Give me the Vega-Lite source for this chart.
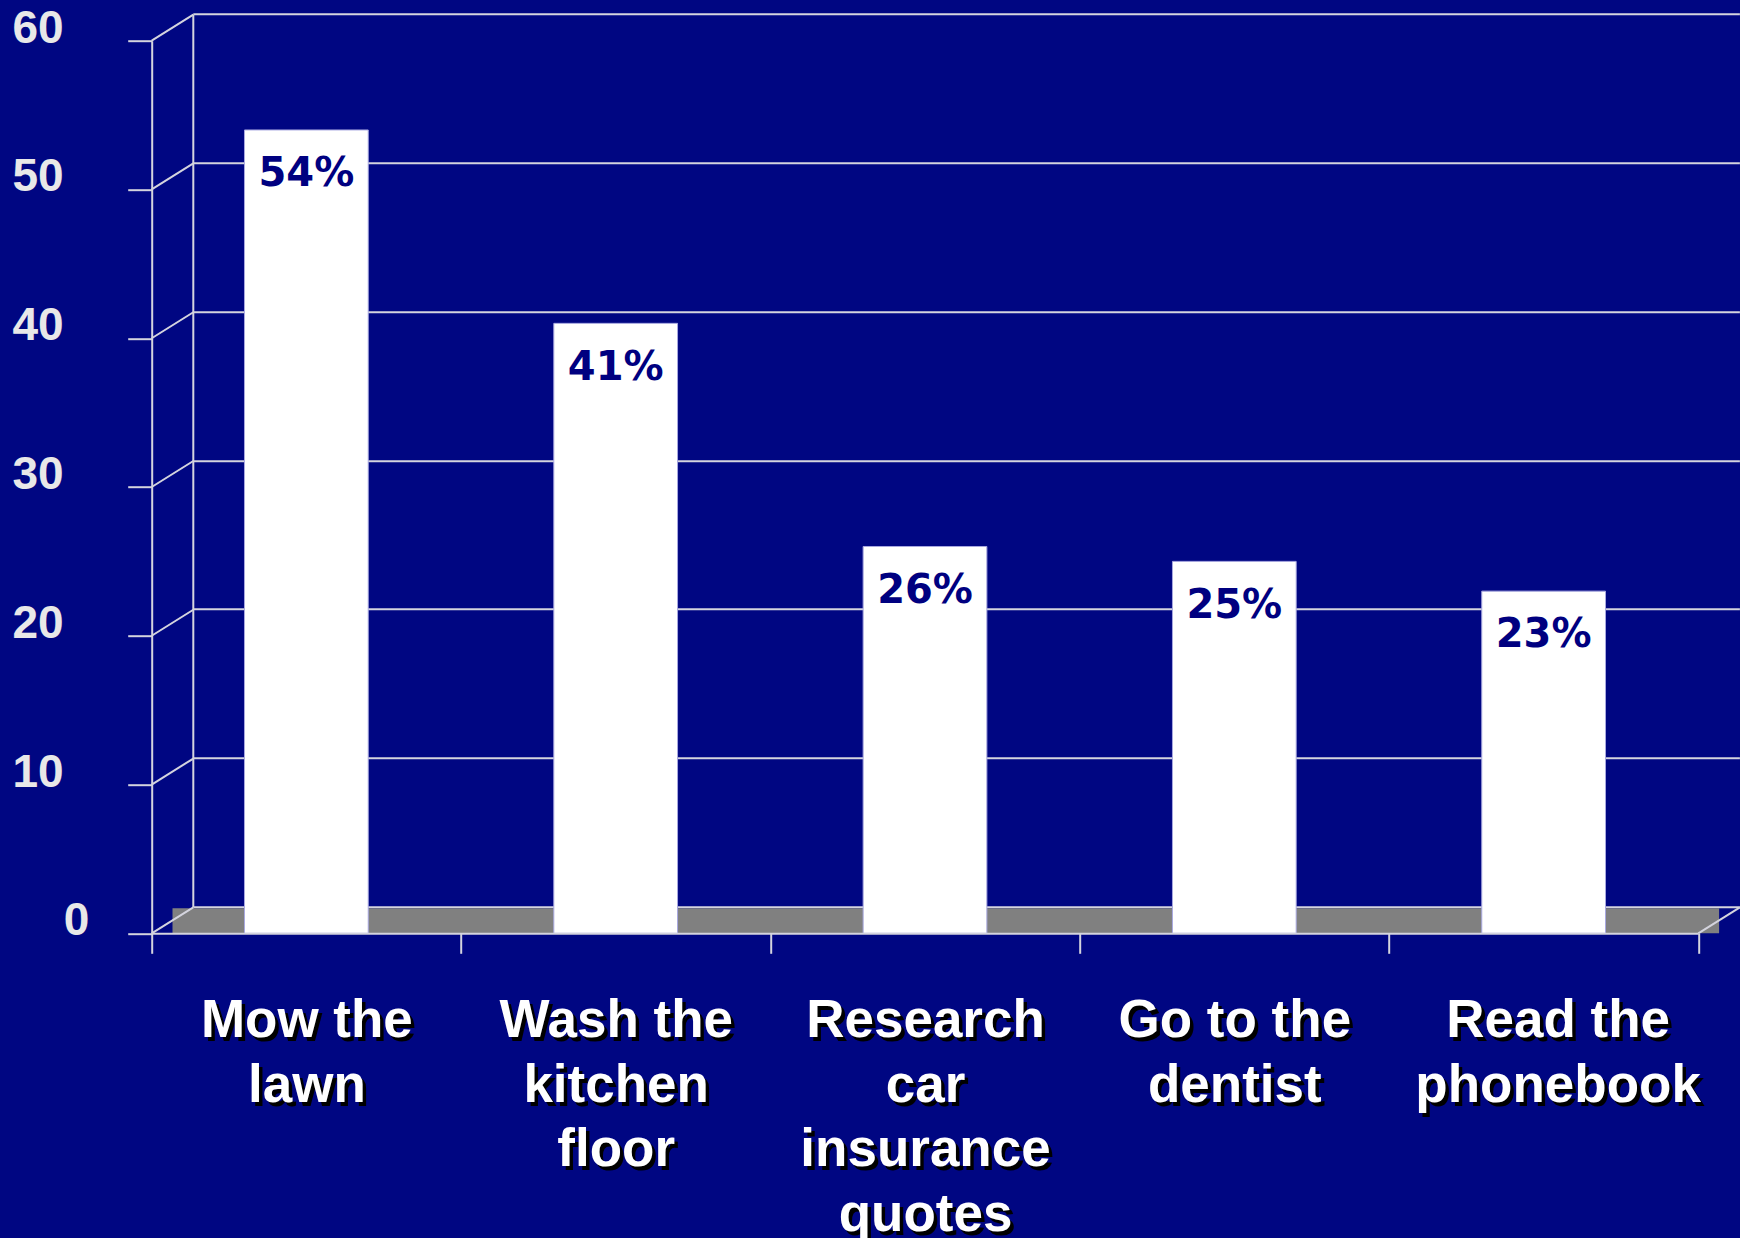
{
  "$schema": "https://vega.github.io/schema/vega-lite/v6.json",
  "width": 1546.6,
  "height": 892.6,
  "autosize": "none",
  "padding": {"left": 151.7, "top": 40.7, "right": 41.7, "bottom": 304.7},
  "background": "#000682",
  "config": {"view": {"stroke": null}},
  "data": {
    "values": [
      {"task": "Mow the lawn", "share": 54, "label": "54%"},
      {"task": "Wash the kitchen floor", "share": 41, "label": "41%"},
      {"task": "Research car insurance quotes", "share": 26, "label": "26%"},
      {"task": "Go to the dentist", "share": 25, "label": "25%"},
      {"task": "Read the phonebook", "share": 23, "label": "23%"}
    ]
  },
  "resolve": {"axis": {"x": "independent", "y": "independent"}},
  "layer": [
    {
      "data": {"values": [{"floor": 0}]},
      "mark": {"type": "rect", "color": "#808080", "xOffset": 20.8, "x2Offset": 20.8, "y2Offset": -25},
      "encoding": {
        "x": {"datum": "Mow the lawn", "type": "nominal", "bandPosition": 0, "axis": null},
        "x2": {"datum": "Read the phonebook", "bandPosition": 1},
        "y": {
          "field": "floor",
          "type": "quantitative",
          "axis": {
            "orient": "left",
            "title": null,
            "values": [0, 10, 20, 30, 40, 50, 60],
            "translate": 41.6,
            "tickOffset": -67.6,
            "domain": false,
            "ticks": false,
            "labels": false,
            "grid": true,
            "gridColor": "#d4d4de",
            "gridWidth": 2
          }
        },
        "y2": {"datum": 0}
      }
    },
    {
      "mark": {"type": "bar", "width": {"band": 0.4}, "color": "white", "stroke": "#a8a8e0", "strokeWidth": 1},
      "encoding": {
        "x": {
          "field": "task",
          "type": "nominal",
          "sort": null,
          "scale": {
            "domain": ["Mow the lawn", "Wash the kitchen floor", "Research car insurance quotes", "Go to the dentist", "Read the phonebook"],
            "paddingInner": 0,
            "paddingOuter": 0
          },
          "axis": {
            "orient": "bottom",
            "title": null,
            "zindex": 1,
            "domain": true,
            "domainColor": "#d4d4de",
            "domainWidth": 2,
            "ticks": true,
            "tickBand": "extent",
            "tickSize": 20,
            "tickColor": "#d4d4de",
            "tickWidth": 2,
            "labelAngle": 0,
            "labelFont": "Liberation Sans",
            "labelFontWeight": "bold",
            "labelFontSize": 53,
            "labelColor": "white",
            "labelLineHeight": 64.5,
            "labelPadding": 41.3,
            "labelLimit": 0,
            "labelOverlap": false,
            "labelBound": false,
            "labelOffset": {"condition": {"test": "datum.value == 'Read the phonebook'", "value": 14}, "value": 0},
            "labelExpr": "datum.value == 'Mow the lawn' ? ['Mow the', 'lawn'] : datum.value == 'Wash the kitchen floor' ? ['Wash the', 'kitchen', 'floor'] : datum.value == 'Research car insurance quotes' ? ['Research', 'car', 'insurance', 'quotes'] : datum.value == 'Go to the dentist' ? ['Go to the', 'dentist'] : datum.value == 'Read the phonebook' ? ['Read the', 'phonebook'] : ''"
          }
        },
        "y": {
          "field": "share",
          "type": "quantitative",
          "scale": {"domain": [0, 60], "nice": false},
          "axis": {
            "orient": "left",
            "title": null,
            "values": [0, 10, 20, 30, 40, 50, 60],
            "domain": true,
            "domainColor": "#d4d4de",
            "domainWidth": 2,
            "ticks": true,
            "tickSize": 24,
            "tickColor": "#d4d4de",
            "tickWidth": 2,
            "grid": false,
            "labelFont": "Liberation Sans",
            "labelFontWeight": "bold",
            "labelFontSize": 46,
            "labelColor": "#e8e8e8",
            "labelPadding": 64.5,
            "labelOffset": -12.5,
            "labelOverlap": false,
            "labelAlign": {"condition": {"test": "datum.value == 0", "value": "left"}, "value": "right"}
          }
        }
      }
    },
    {
      "mark": {"type": "text", "font": "DejaVu Sans", "fontWeight": "bold", "fontSize": 40, "color": "#000080", "baseline": "top", "align": "center", "dy": 24.3},
      "encoding": {
        "x": {
          "field": "task",
          "type": "nominal",
          "sort": null,
          "axis": {
            "orient": "bottom",
            "title": null,
            "zindex": 0,
            "translate": 4.5,
            "domain": false,
            "ticks": false,
            "labelAngle": 0,
            "labelFont": "Liberation Sans",
            "labelFontWeight": "bold",
            "labelFontSize": 53,
            "labelColor": "black",
            "labelLineHeight": 64.5,
            "labelPadding": 61.3,
            "labelLimit": 0,
            "labelOverlap": false,
            "labelBound": false,
            "labelOffset": {"condition": {"test": "datum.value == 'Read the phonebook'", "value": 14}, "value": 0},
            "labelExpr": "datum.value == 'Mow the lawn' ? ['Mow the', 'lawn'] : datum.value == 'Wash the kitchen floor' ? ['Wash the', 'kitchen', 'floor'] : datum.value == 'Research car insurance quotes' ? ['Research', 'car', 'insurance', 'quotes'] : datum.value == 'Go to the dentist' ? ['Go to the', 'dentist'] : datum.value == 'Read the phonebook' ? ['Read the', 'phonebook'] : ''"
          }
        },
        "y": {
          "field": "share",
          "type": "quantitative",
          "axis": {
            "orient": "left",
            "title": null,
            "zindex": 1,
            "offset": -67.6,
            "translate": -26,
            "domain": true,
            "domainColor": "#d4d4de",
            "domainWidth": 2,
            "labels": false,
            "grid": false,
            "ticks": false
          }
        },
        "text": {"field": "label"}
      }
    },
    {
      "data": {"values": [{"v": 0}, {"v": 10}, {"v": 20}, {"v": 30}, {"v": 40}, {"v": 50}, {"v": 60}]},
      "mark": {"type": "rule", "color": "#d4d4de", "strokeWidth": 2, "x2Offset": 41.6, "y2Offset": -26},
      "encoding": {
        "x": {"datum": "Mow the lawn", "type": "nominal", "bandPosition": 0, "axis": null},
        "x2": {"datum": "Mow the lawn", "bandPosition": 0},
        "y": {"field": "v", "type": "quantitative", "axis": null},
        "y2": {"field": "v"}
      }
    },
    {
      "data": {"values": [{"v": 0}]},
      "mark": {"type": "rule", "color": "#d4d4de", "strokeWidth": 2, "x2Offset": 41.6, "y2Offset": -26},
      "encoding": {
        "x": {"datum": "Read the phonebook", "type": "nominal", "bandPosition": 1, "axis": null},
        "x2": {"datum": "Read the phonebook", "bandPosition": 1},
        "y": {"field": "v", "type": "quantitative", "axis": null},
        "y2": {"field": "v"}
      }
    }
  ]
}
